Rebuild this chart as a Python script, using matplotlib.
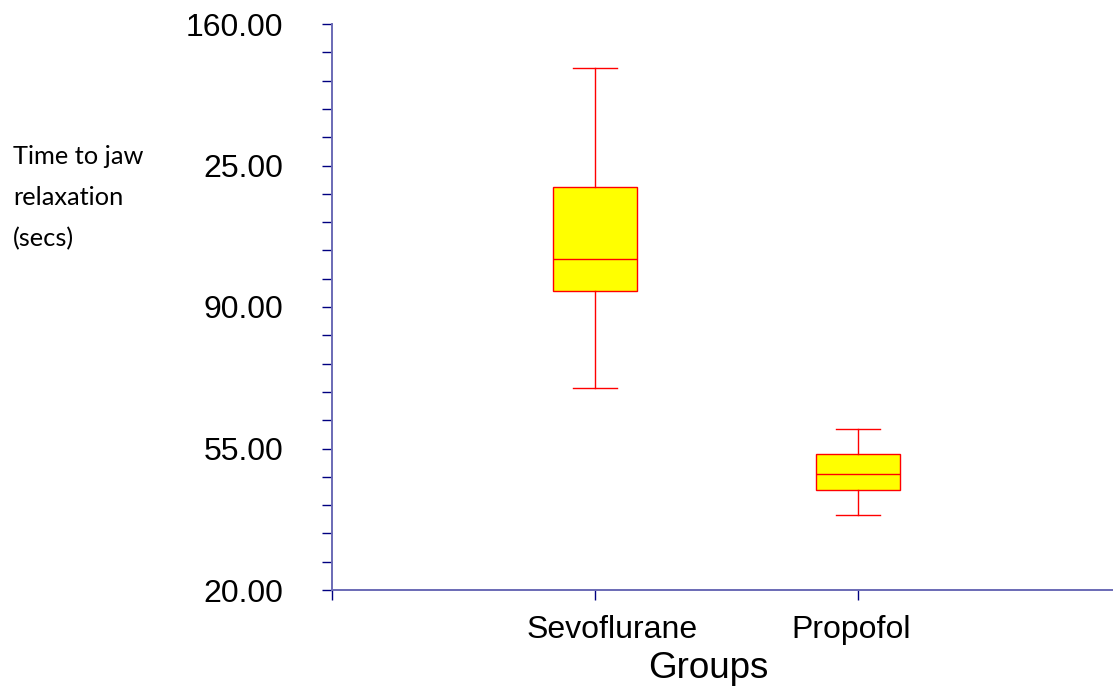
import numpy as np
import matplotlib.pyplot as plt
from matplotlib.ticker import FixedLocator
from matplotlib.transforms import ScaledTranslation

# Box plot summary for each group (seconds)
groups = ['Sevoflurane', 'Propofol']
whisker_low = [70.0, 38.6]
quartile_1 = [94.0, 44.7]
medians = [101.8, 48.8]
quartile_3 = [119.7, 53.7]
whisker_high = [149.0, 59.7]

y_ticks = [20, 55, 90, 125, 160]
y_tick_labels = ['20.00', '55.00', '90.00', '25.00', '160.00']

plt.rcParams['font.family'] = ['Liberation Sans', 'DejaVu Sans']

fig = plt.figure(figsize=(11.13, 6.86), dpi=100)
ax = fig.add_axes([332 / 1113, 96 / 686, 781 / 1113, 566 / 686])

stats = []
for g, lo, q1, med, q3, hi in zip(groups, whisker_low, quartile_1, medians,
                                  quartile_3, whisker_high):
    stats.append(dict(label=g, whislo=lo, q1=q1, med=med, q3=q3, whishi=hi,
                      fliers=[]))

red = '#ff0000'
ax.bxp(stats, positions=[1, 2], widths=0.323, capwidths=0.165,
       patch_artist=True, showfliers=False,
       boxprops=dict(facecolor='#ffff00', edgecolor=red, linewidth=1),
       medianprops=dict(color=red, linewidth=1),
       whiskerprops=dict(color=red, linewidth=1),
       capprops=dict(color=red, linewidth=1))

ax.set_xlim(0, 781 / 263)
ax.set_ylim(20, 160)

ax.xaxis.set_major_locator(FixedLocator([0, 1, 2]))
ax.set_xticklabels(['', groups[0], groups[1]])
ax.yaxis.set_major_locator(FixedLocator(y_ticks))
ax.set_yticklabels(y_tick_labels)
ax.yaxis.set_minor_locator(FixedLocator(np.arange(20, 161, 7)))

for side in ['top', 'right']:
    ax.spines[side].set_visible(False)
for side in ['left', 'bottom']:
    ax.spines[side].set_color('#6a6ab5')
    ax.spines[side].set_linewidth(1.4)

ax.tick_params(axis='both', which='both', direction='out', length=7.2,
               width=1, color='#000080')
ax.tick_params(axis='y', labelsize=23, pad=28)
ax.tick_params(axis='x', labelsize=23, pad=11)

# group names sit a little off their tick marks
for lab, dx in zip(ax.get_xticklabels(), [0, 17, -7]):
    lab.set_transform(lab.get_transform()
                      + ScaledTranslation(dx / 100, 0, fig.dpi_scale_trans))

fig.text(708 / 1113, 1 - 678 / 686, 'Groups', ha='center', va='baseline',
         fontsize=26.5)
fig.text(13 / 1113, 1 - 145 / 686, 'Time to jaw\nrelaxation\n(secs)',
         ha='left', va='top', fontsize=18.3, family=['Lato', 'DejaVu Sans'],
         linespacing=1.95)

fig.savefig('out.png', dpi=100)
